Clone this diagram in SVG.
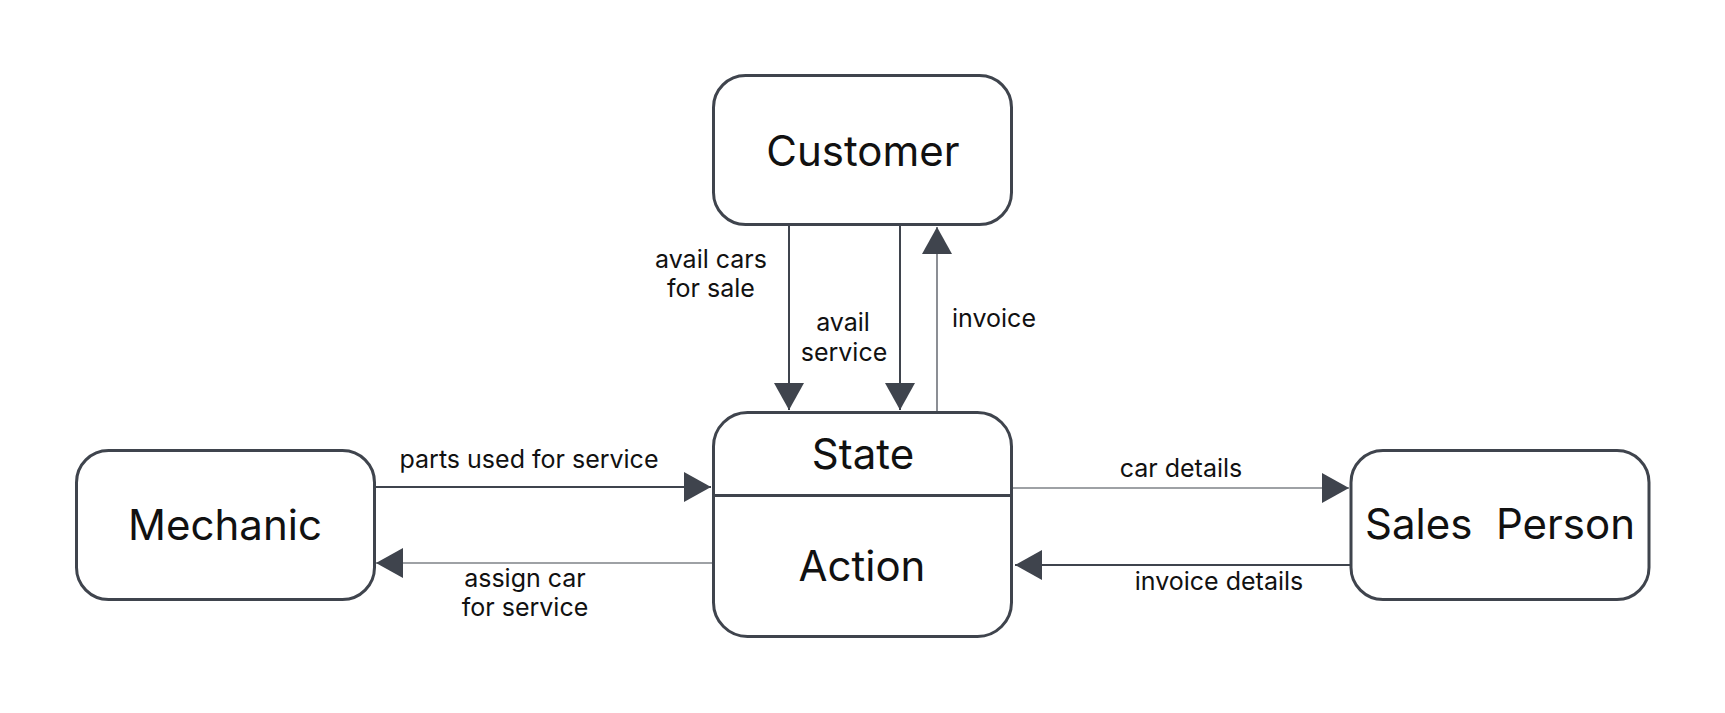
<svg xmlns="http://www.w3.org/2000/svg" width="1725" height="713" viewBox="0 0 1725 713">
<style>
.box{fill:#fff;stroke:#3f444d;stroke-width:3}
.big{font-family:Inter,"Liberation Sans",sans-serif;font-size:42px;fill:#111;text-anchor:middle}
.lbl{font-family:Inter,"Liberation Sans",sans-serif;font-size:25px;fill:#111;text-anchor:middle}
.c{stroke:#3f444d;fill:none}
.w2{stroke-width:2}
.w1{stroke-width:1.2}
</style>
<defs>
<marker id="ah" markerUnits="userSpaceOnUse" markerWidth="27" markerHeight="30" refX="27" refY="15" orient="auto" viewBox="0 0 27 30">
<path d="M0,0 L27,15 L0,30 z" fill="#3f444d"/>
</marker>
</defs>
<rect width="1725" height="713" fill="#fff"/>
<g id="connectors">
<line class="c w2" x1="789" y1="225" x2="789" y2="410" marker-end="url(#ah)"/>
<line class="c w2" x1="900" y1="225" x2="900" y2="410" marker-end="url(#ah)"/>
<line class="c w1" x1="937" y1="411" x2="937" y2="227" marker-end="url(#ah)"/>
<line class="c w2" x1="375" y1="487" x2="711" y2="487" marker-end="url(#ah)"/>
<line class="c w1" x1="712" y1="563" x2="376" y2="563" marker-end="url(#ah)"/>
<line class="c w1" x1="1013" y1="488" x2="1349" y2="488" marker-end="url(#ah)"/>
<line class="c w2" x1="1350" y1="565" x2="1015" y2="565" marker-end="url(#ah)"/>
<text class="lbl" x="711" y="268">avail cars</text>
<text class="lbl" x="711" y="297">for sale</text>
<text class="lbl" x="843" y="331">avail</text>
<text class="lbl" x="844" y="361">service</text>
<text class="lbl" x="994" y="327">invoice</text>
<text class="lbl" x="529" y="468">parts used for service</text>
<text class="lbl" x="525" y="587">assign car</text>
<text class="lbl" x="525" y="616">for service</text>
<text class="lbl" x="1181" y="477">car details</text>
<text class="lbl" x="1219" y="590">invoice details</text>
</g>
<g id="customer">
<rect class="box" x="713.5" y="75.5" width="298" height="149" rx="32"/>
<text class="big" x="863" y="166">Customer</text>
</g>
<g id="mechanic">
<rect class="box" x="76.5" y="450.5" width="298" height="149" rx="32"/>
<text class="big" x="225" y="540">Mechanic</text>
</g>
<g id="state-action">
<rect class="box" x="713.5" y="412.5" width="298" height="224" rx="34"/>
<line x1="713.5" y1="495.5" x2="1011.5" y2="495.5" stroke="#3f444d" stroke-width="3"/>
<text class="big" x="863" y="469">State</text>
<text class="big" x="862" y="581">Action</text>
</g>
<g id="sales-person">
<rect class="box" x="1351" y="450.5" width="298" height="149" rx="32"/>
<text class="big" x="1500" y="539" style="white-space:pre">Sales  Person</text>
</g>
</svg>
